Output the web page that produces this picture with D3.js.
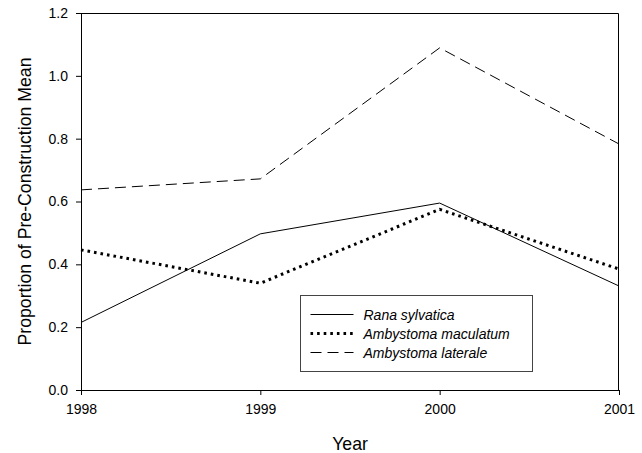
<!DOCTYPE html>
<html>
<head>
<meta charset="utf-8">
<script src="https://cdn.jsdelivr.net/npm/d3@7"></script>
<style>
  body { margin: 0; background: #fff; }
  text { font-family: Arial, "Liberation Sans", sans-serif; fill: #000; }
</style>
</head>
<body>
<script>
// data
var years = [1998, 1999, 2000, 2001];
var ranaSylvatica = [0.215, 0.497, 0.595, 0.331];
var ambystomaMaculatum = [0.446, 0.340, 0.575, 0.385];
var ambystomaLaterale = [0.637, 0.672, 1.089, 0.783];
var yTicks = [0.0, 0.2, 0.4, 0.6, 0.8, 1.0, 1.2];
var seriesNames = ["Rana sylvatica", "Ambystoma maculatum", "Ambystoma laterale"];

var margin = { top: 13, right: 23, bottom: 63, left: 81 },
    width = 642 - margin.left - margin.right,
    height = 453 - margin.top - margin.bottom;

var svg = d3.select("body").append("svg")
    .attr("width", 642)
    .attr("height", 453);

var g = svg.append("g")
    .attr("transform", "translate(" + margin.left + "," + margin.top + ")");

var x = d3.scaleLinear().domain([1998, 2001]).range([0, width]);
var y = d3.scaleLinear().domain([0, 1.2]).range([height, 0]);

// frame (top and right)
g.append("path")
    .attr("d", "M0,0.5H" + (width - 0.5) + "V" + height)
    .attr("fill", "none")
    .attr("stroke", "#000")
    .attr("stroke-width", 1);

// axes
var xAxis = g.append("g")
    .attr("transform", "translate(0," + height + ")")
    .call(d3.axisBottom(x).tickValues(years).tickFormat(d3.format("d")).tickSizeOuter(0).tickSizeInner(5).tickPadding(9));

var yAxis = g.append("g")
    .call(d3.axisLeft(y).tickValues(yTicks).tickFormat(d3.format(".1f")).tickSizeOuter(0).tickSizeInner(5).tickPadding(8));

[xAxis, yAxis].forEach(function (a) {
    a.selectAll("text").style("font-size", "14px").attr("fill", "#000");
    a.selectAll("line, path").attr("stroke", "#000");
});

// series
var seriesData = [ranaSylvatica, ambystomaMaculatum, ambystomaLaterale];
var styles = [
    { width: 1, dash: null },
    { width: 3, dash: "2.6 4" },
    { width: 1, dash: "11 6" }
];

var line = d3.line()
    .x(function (d, i) { return x(years[i]); })
    .y(function (d) { return y(d); });

seriesData.forEach(function (s, k) {
    g.append("path")
        .datum(s)
        .attr("fill", "none")
        .attr("stroke", "#000")
        .attr("stroke-width", styles[k].width)
        .attr("stroke-dasharray", styles[k].dash)
        .attr("d", line);
});

// legend
var legend = svg.append("g").attr("transform", "translate(300.5,295.5)");
legend.append("rect")
    .attr("width", 232)
    .attr("height", 76)
    .attr("fill", "#fff")
    .attr("stroke", "#444")
    .attr("stroke-width", 1);

seriesNames.forEach(function (name, k) {
    var ly = 19 + k * 19;
    legend.append("line")
        .attr("x1", 10).attr("x2", 53)
        .attr("y1", ly).attr("y2", ly)
        .attr("stroke", "#000")
        .attr("stroke-width", styles[k].width)
        .attr("stroke-dasharray", styles[k].dash);
    legend.append("text")
        .attr("x", 63)
        .attr("y", ly + 5)
        .style("font-size", "14px")
        .style("font-style", "italic")
        .text(name);
});

// axis titles
svg.append("text")
    .attr("x", margin.left + width / 2)
    .attr("y", 450)
    .attr("text-anchor", "middle")
    .style("font-size", "17.7px")
    .text("Year");

svg.append("text")
    .attr("transform", "translate(31," + (margin.top + height / 2) + ") rotate(-90)")
    .attr("text-anchor", "middle")
    .style("font-size", "17.7px")
    .text("Proportion of Pre-Construction Mean");
</script>
</body>
</html>
